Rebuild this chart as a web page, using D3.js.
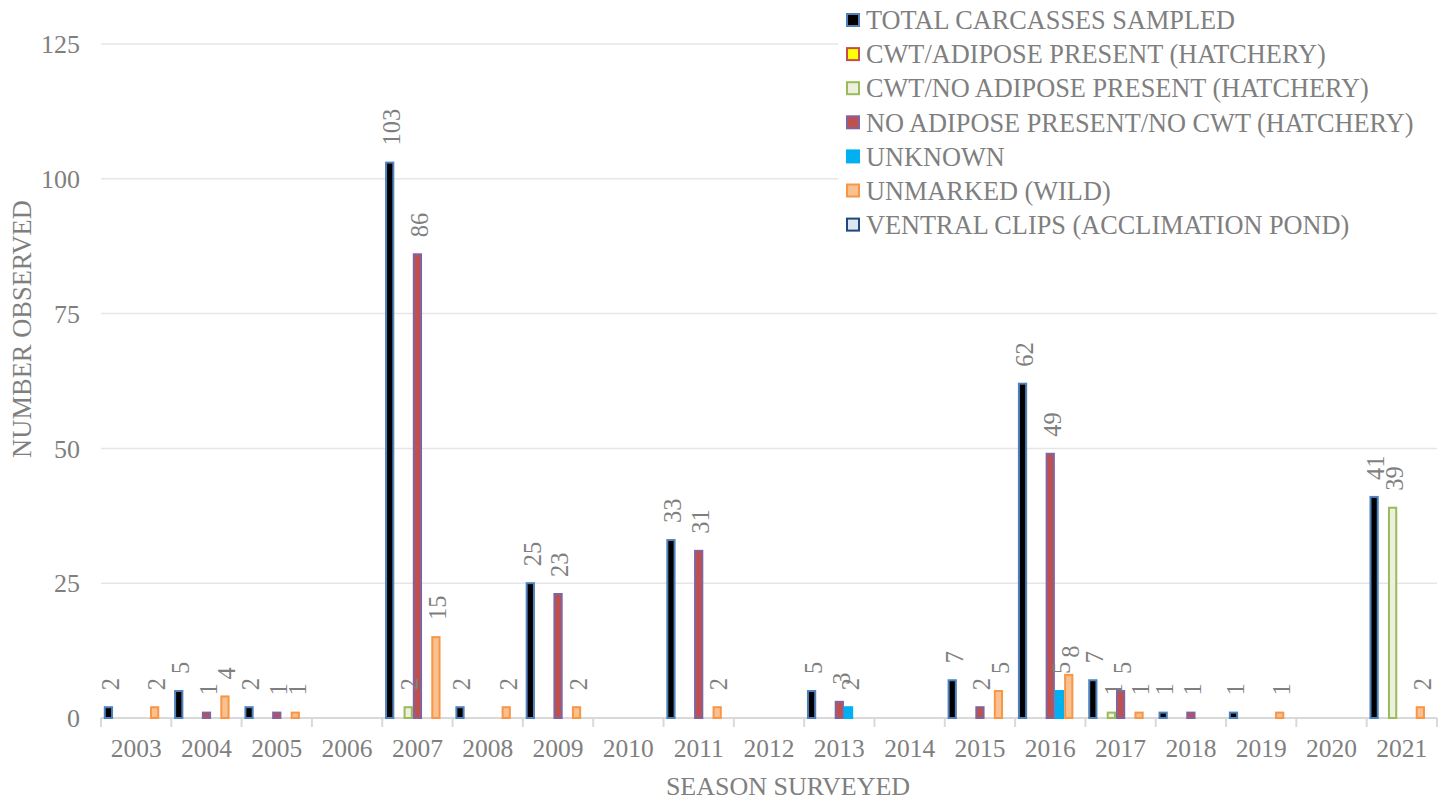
<!DOCTYPE html>
<html>
<head>
<meta charset="utf-8">
<script src="https://cdn.jsdelivr.net/npm/d3@7"></script>
<style>
  html, body { margin: 0; padding: 0; background: #ffffff; }
  svg { display: block; }
</style>
</head>
<body>
<svg id="chart" width="1445" height="801" font-family="'Liberation Serif', 'Times New Roman', Times, 'DejaVu Serif', serif"></svg>
<script>
// ---- data ----
const years = ["2003","2004","2005","2006","2007","2008","2009","2010","2011","2012",
               "2013","2014","2015","2016","2017","2018","2019","2020","2021"];
const seriesNames = [
  "TOTAL CARCASSES SAMPLED",
  "CWT/ADIPOSE PRESENT (HATCHERY)",
  "CWT/NO ADIPOSE PRESENT (HATCHERY)",
  "NO ADIPOSE PRESENT/NO CWT (HATCHERY)",
  "UNKNOWN",
  "UNMARKED (WILD)",
  "VENTRAL CLIPS (ACCLIMATION POND)"
];
const totalCarcasses = [2,5,2,0,103,2,25,0,33,0,5,0,7,62,7,1,1,0,41];
const cwtAdipose     = [0,0,0,0,0,0,0,0,0,0,0,0,0,0,0,0,0,0,0];
const cwtNoAdipose   = [0,0,0,0,2,0,0,0,0,0,0,0,0,0,1,0,0,0,39];
const noAdiposeNoCwt = [0,1,1,0,86,0,23,0,31,0,3,0,2,49,5,1,0,0,0];
const unknown        = [0,0,0,0,0,0,0,0,0,0,2,0,0,5,0,0,0,0,0];
const unmarkedWild   = [2,4,1,0,15,2,2,0,2,0,0,0,5,8,1,0,1,0,2];
const ventralClips   = [0,0,0,0,0,0,0,0,0,0,0,0,0,0,0,0,0,0,0];
const yTicks = [0,25,50,75,100,125];
const xTitle = "SEASON SURVEYED";
const yTitle = "NUMBER OBSERVED";

const seriesValues = [totalCarcasses, cwtAdipose, cwtNoAdipose, noAdiposeNoCwt, unknown, unmarkedWild, ventralClips];
const fills   = ["#000000", "#ffff00", "#ebf1de", "#c0504d", "#00b0f0", "#fac090", "#dce6f2"];
const strokes = ["#4f81bd", "#c0504d", "#9bbb59", "#8064a2", "#00b0f0", "#f79646", "#1f497d"];
const textColor = "#7f7f7f";

// ---- layout ----
const svg = d3.select("#chart");
const plotLeft = 101, plotRight = 1437, plotTop = 44, plotBottom = 718;

const x0 = d3.scaleBand().domain(years).range([plotLeft, plotRight]).paddingInner(0).paddingOuter(0);
const gap = 2.8;
const x1 = d3.scaleBand().domain(d3.range(seriesNames.length)).range([gap, x0.bandwidth() - gap]).padding(0);
const y = d3.scaleLinear().domain([0, 125]).range([plotBottom, plotTop]);

// gridlines
svg.append("g").selectAll("line").data(yTicks.filter(d => d > 0)).join("line")
  .attr("x1", plotLeft).attr("x2", plotRight)
  .attr("y1", d => y(d)).attr("y2", d => y(d))
  .attr("stroke", "#e6e6e6").attr("stroke-width", 1.5);

// y tick labels
svg.append("g").selectAll("text").data(yTicks).join("text")
  .attr("x", 80).attr("y", d => y(d)).attr("dy", "0.35em")
  .attr("text-anchor", "end").attr("font-size", 26).attr("fill", textColor)
  .text(d => d);

// x axis line and ticks
const xAxisG = svg.append("g");
xAxisG.append("line").attr("x1", plotLeft).attr("x2", plotRight).attr("y1", plotBottom).attr("y2", plotBottom)
  .attr("stroke", "#d9d9d9").attr("stroke-width", 2);
const boundaries = years.map(yv => x0(yv)).concat([x0(years[years.length - 1]) + x0.bandwidth()]);
xAxisG.selectAll("line.tick").data(boundaries).join("line").attr("class", "tick")
  .attr("x1", d => d).attr("x2", d => d).attr("y1", plotBottom).attr("y2", plotBottom + 9)
  .attr("stroke", "#d9d9d9").attr("stroke-width", 2);
xAxisG.selectAll("text").data(years).join("text")
  .attr("x", d => x0(d) + x0.bandwidth() / 2).attr("y", 757)
  .attr("text-anchor", "middle").attr("font-size", 25.5).attr("fill", textColor)
  .text(d => d);

// bars
const barData = [];
seriesValues.forEach((vals, s) => {
  vals.forEach((v, i) => { if (v > 0) barData.push({ s, year: years[i], v }); });
});
const slot = x1.bandwidth();
svg.append("g").selectAll("rect").data(barData).join("rect")
  .attr("x", d => x0(d.year) + x1(d.s) + 1)
  .attr("width", slot - 2)
  .attr("y", d => y(d.v))
  .attr("height", d => plotBottom - y(d.v))
  .attr("fill", d => fills[d.s])
  .attr("stroke", d => strokes[d.s])
  .attr("stroke-width", 2);

// data labels
svg.append("g").selectAll("text").data(barData).join("text")
  .attr("transform", d => {
    const cx = x0(d.year) + x1(d.s) + slot / 2;
    const cy = y(d.v) - 17;
    return `translate(${cx},${cy}) rotate(-90)`;
  })
  .attr("dy", "0.42em")
  .attr("text-anchor", "start").attr("font-size", 24.5).attr("fill", textColor)
  .text(d => d.v);

// axis titles
svg.append("text").attr("x", 788).attr("y", 795).attr("text-anchor", "middle")
  .attr("font-size", 26).attr("fill", textColor).text(xTitle);
svg.append("text").attr("transform", "translate(31,329) rotate(-90)").attr("text-anchor", "middle")
  .attr("font-size", 26.5).attr("fill", textColor).text(yTitle);

// legend
const legend = svg.append("g");
legend.append("rect").attr("x", 838).attr("y", 0).attr("width", 607).attr("height", 242).attr("fill", "#ffffff");
const rowY = d3.scaleLinear().domain([0, 1]).range([20, 54.1]);
const items = legend.selectAll("g").data(seriesNames).join("g")
  .attr("transform", (d, i) => `translate(0,${rowY(i)})`);
items.append("rect").attr("x", 847).attr("y", -6).attr("width", 12).attr("height", 12)
  .attr("fill", (d, i) => fills[i]).attr("stroke", (d, i) => strokes[i]).attr("stroke-width", 2);
items.append("text").attr("x", 866).attr("y", 0).attr("dy", "0.35em")
  .attr("font-size", 26.3).attr("fill", textColor).text(d => d);
</script>
</body>
</html>
